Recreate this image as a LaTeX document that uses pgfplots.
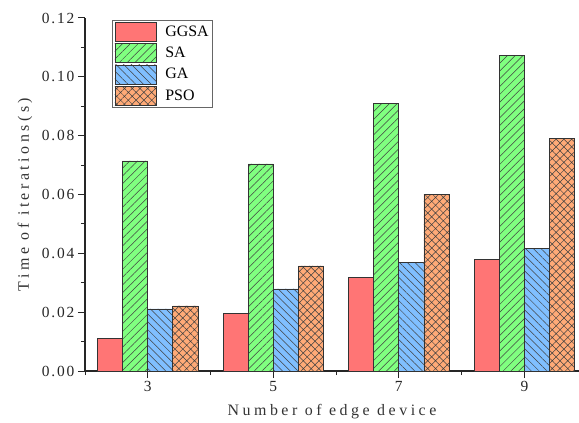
\documentclass[border=0pt]{standalone}
\usepackage{pgfplots}
\pgfplotsset{compat=1.18}
\usepackage{fontspec}
\setmainfont{Liberation Serif}[LetterSpace=22]
\newfontfamily\legfont{Liberation Serif}
\newfontfamily\tickfont{Liberation Serif}[LetterSpace=12]
\usetikzlibrary{patterns.meta}

\definecolor{ggsa}{HTML}{FF7575}
\definecolor{sa}{HTML}{80FF80}
\definecolor{ga}{HTML}{80BFFF}
\definecolor{pso}{HTML}{FFAA77}

\pgfplotsset{
  barleg/.style={legend image code/.code={%
    \draw[##1] (0bp,-9.5bp) rectangle (41bp,9.5bp);
    \path (48bp,0bp);}},
  barbase/.style={draw=black!80, line width=0.8bp, barleg},
}

\begin{document}
\begin{tikzpicture}
\begin{axis}[
  scale only axis, width=494bp, height=353bp,
  xmin=2, xmax=9.87, ymin=0, ymax=0.12,
  axis lines=left, axis line style={-, line width=1.2bp, black!85},
  ybar=0pt, bar width=0.4,
  xtick={3,5,7,9}, minor xtick={2,4,6,8},
  ytick={0,0.02,0.04,0.06,0.08,0.10,0.12},
  minor ytick={0.01,0.03,0.05,0.07,0.09,0.11},
  tick align=outside, major tick length=7bp, minor tick length=4bp,
  tick style={line width=1bp, black!85},
  /pgf/number format/assume math mode=true,
  yticklabel style={/pgf/number format/.cd, fixed, fixed zerofill, precision=2},
  scaled y ticks=false,
  ticklabel style={font=\tickfont\fontsize{15.5}{18}\selectfont, text=black!85},
  xlabel={Number of edge device},
  ylabel={Time of iterations(s)},
  label style={font=\fontsize{16}{18}\selectfont, text=black!80},
  xlabel style={at={(axis description cs:0.5,0)}, anchor=center, yshift=-41bp},
  ylabel style={at={(axis description cs:-0.1215,0.5)}, anchor=center},
  legend style={at={(0.055,0.994)}, anchor=north west, draw=black!60,
    line width=0.7bp, font=\legfont\fontsize{16}{18}\selectfont,
    row sep=1.5bp, inner xsep=2bp, inner ysep=1.5bp},
  legend cell align=left,
]
\addplot[barbase, fill=ggsa] coordinates {(3,0.0112) (5,0.0197) (7,0.0319) (9,0.0380)};
\addplot[barbase, fill=sa, postaction={pattern={Lines[angle=45,distance=5.5bp,line width=0.5bp]}, pattern color=black!75}]
  coordinates {(3,0.0714) (5,0.0704) (7,0.0909) (9,0.1073)};
\addplot[barbase, fill=ga, postaction={pattern={Lines[angle=-45,distance=5.5bp,line width=0.5bp]}, pattern color=black!75}]
  coordinates {(3,0.0211) (5,0.0279) (7,0.0368) (9,0.0418)};
\addplot[barbase, fill=pso, postaction={pattern={Hatch[angle=45,distance=5.5bp,line width=0.5bp]}, pattern color=black!75}]
  coordinates {(3,0.0221) (5,0.0357) (7,0.0601) (9,0.0791)};
\legend{GGSA,SA,GA,PSO}
\end{axis}
\pgfresetboundingbox
\path[use as bounding box] ([shift={(-85bp,-52bp)}]current axis.south west)
  rectangle ([shift={(0bp,18bp)}]current axis.north east);
\end{tikzpicture}
\end{document}
